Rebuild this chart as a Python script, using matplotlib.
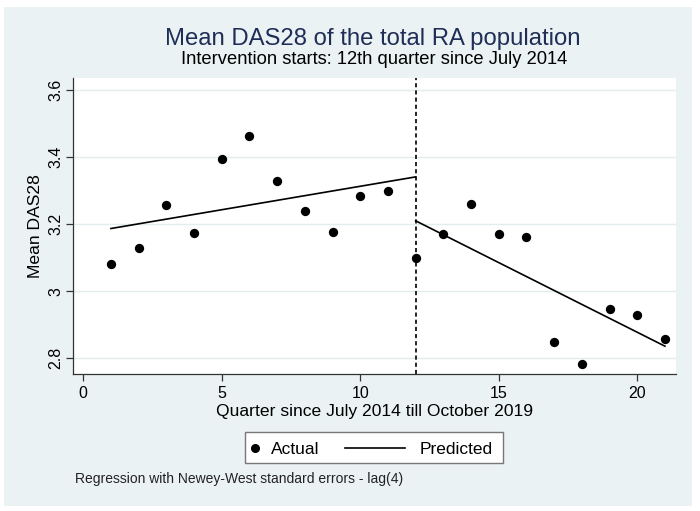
import matplotlib
matplotlib.use('Agg')
from matplotlib import pyplot as plt
from matplotlib.patches import Rectangle
from matplotlib.lines import Line2D

# data
quarter = list(range(1, 22))
das28 = [3.080, 3.130, 3.258, 3.174, 3.395, 3.464, 3.329, 3.240, 3.177, 3.285,
         3.300, 3.100, 3.170, 3.259, 3.171, 3.163, 2.847, 2.783, 2.947, 2.929,
         2.858]
pred_pre_x = [1, 12]
pred_pre_y = [3.187, 3.341]
pred_post_x = [12, 21]
pred_post_y = [3.210, 2.836]
intervention = 12
yticks = [2.8, 3.0, 3.2, 3.4, 3.6]
ytick_labels = ['2.8', '3', '3.2', '3.4', '3.6']
xticks = [0, 5, 10, 15, 20]

plt.rcParams['font.family'] = ['Liberation Sans', 'DejaVu Sans']

W, H = 700, 511
BG = '#EAF2F3'
AXC = '#333333'


def fx(px):
    return px / W


def fy(py):
    return 1 - py / H


fig = plt.figure(figsize=(7, 5.11), dpi=100, facecolor='white')
fig.patches.append(Rectangle((fx(4), fy(506)), fx(692) - fx(4), fy(7) - fy(506),
                             transform=fig.transFigure, facecolor=BG,
                             edgecolor='none', zorder=-10))

ax = fig.add_axes([fx(72.7), fy(374), fx(676) - fx(72.7), fy(78) - fy(374)])
ax.set_facecolor('white')
ax.set_xlim(-0.38, 21.4)
ax.set_ylim(2.753, 3.636)

for yv in yticks:
    ax.axhline(yv, color='#E2EDEF', lw=1.0, zorder=0)

ax.scatter(quarter, das28, s=45, color='black', linewidths=0, zorder=3)
ax.plot(pred_pre_x, pred_pre_y, color='black', lw=1.2, zorder=2)
ax.plot(pred_post_x, pred_post_y, color='black', lw=1.2, zorder=2)
ax.axvline(intervention, color='black', lw=1.2, ls=(0, (2.5, 1.8)), zorder=2)

ax.spines['top'].set_visible(False)
ax.spines['right'].set_visible(False)
for s in ['left', 'bottom']:
    ax.spines[s].set_color(AXC)
    ax.spines[s].set_linewidth(0.9)

ax.set_yticks(yticks)
ax.set_yticklabels(ytick_labels, rotation=90, va='center')
ax.set_xticks(xticks)
ax.tick_params(axis='both', direction='out', length=5, width=0.9,
               color=AXC, labelsize=11.5)
ax.tick_params(axis='x', pad=4)
ax.tick_params(axis='y', pad=1.5)
ax.set_ylabel('Mean DAS28', fontsize=12.6, labelpad=4)
ax.set_xlabel('Quarter since July 2014 till October 2019', fontsize=12.6,
              labelpad=2)

fig.text(fx(373), fy(45.5), 'Mean DAS28 of the total RA population',
         ha='center', va='baseline', fontsize=17.2, color='#1f2d57')
fig.text(fx(374), fy(63.5), 'Intervention starts: 12th quarter since July 2014',
         ha='center', va='baseline', fontsize=13.2, color='black')
fig.text(fx(75), fy(483.3), 'Regression with Newey-West standard errors - lag(4)',
         ha='left', va='baseline', fontsize=10, color='#222222')

# legend drawn by hand so the marker key stays short, as in the reference
fig.patches.append(Rectangle((fx(245), fy(463)), fx(503) - fx(245), fy(432) - fy(463),
                             transform=fig.transFigure, facecolor='white',
                             edgecolor='#777777', lw=1.0, zorder=5))
fig.lines.append(Line2D([fx(255)], [fy(447.5)], transform=fig.transFigure,
                        marker='o', color='black', markersize=5.5, ls='none',
                        zorder=6))
fig.text(fx(271), fy(447.5), 'Actual', ha='left', va='center_baseline',
         fontsize=12.5, zorder=6)
fig.lines.append(Line2D([fx(345), fx(405)], [fy(447.5), fy(447.5)],
                        transform=fig.transFigure, color='black', lw=1.2,
                        zorder=6))
fig.text(fx(420), fy(447.5), 'Predicted', ha='left', va='center_baseline',
         fontsize=12.5, zorder=6)

fig.savefig('out.png', dpi=100, facecolor='white')
